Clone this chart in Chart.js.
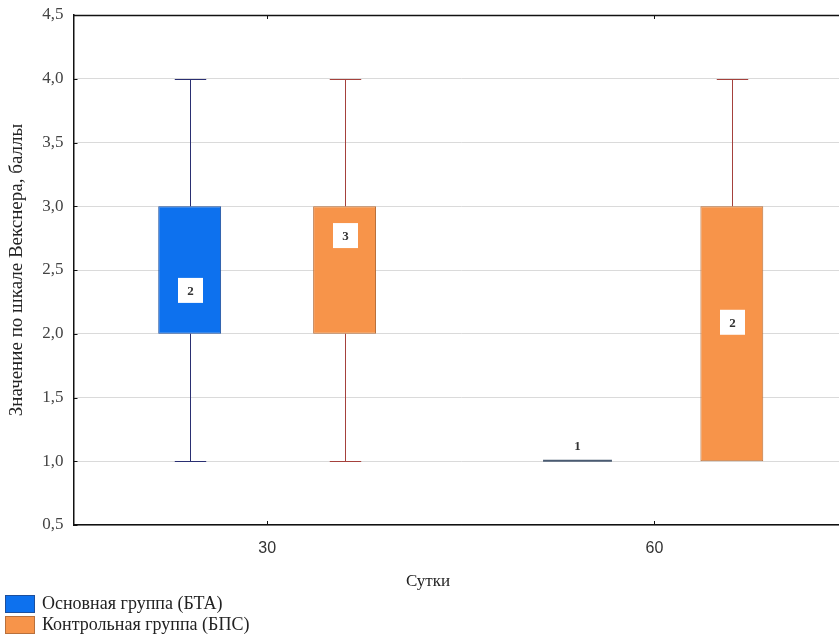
<!DOCTYPE html>
<html>
<head>
<meta charset="utf-8">
<script src="https://cdn.jsdelivr.net/npm/chart.js@4"></script>
<style>
  html, body { margin: 0; padding: 0; background: #fff; overflow: hidden; }
  #wrap { width: 848px; height: 635px; }
</style>
</head>
<body>
<div id="wrap"><canvas id="c" width="848" height="635"></canvas></div>
<script>
// Days after surgery
const days = ['30', '60'];

// Group names
const groupNames = ['Основная группа (БТА)', 'Контрольная группа (БПС)'];

// Box-plot statistics per group, one entry per day
const mainMin    = [1, 1];
const mainQ1     = [2, 1];
const mainQ3     = [3, 1];
const mainMax    = [4, 1];
const mainMedian = [2, 1];

const ctrlMin    = [1, 1];
const ctrlQ1     = [2, 1];
const ctrlQ3     = [3, 3];
const ctrlMax    = [4, 4];
const ctrlMedian = [3, 2];

// Where each median tag sits on the value axis
const mainTagAt = [2.34, 1.12];
const ctrlTagAt = [2.77, 2.09];

// Y tick labels use a decimal comma
const fmt = v => v.toFixed(1).replace('.', ',');

const groups = [
  { min: mainMin, q1: mainQ1, q3: mainQ3, max: mainMax, med: mainMedian, tag: mainTagAt,
    fill: '#0d71ee', edge: '#1d4f9c', whisker: '#2a2f72', flat: '#4a5b72' },
  { min: ctrlMin, q1: ctrlQ1, q3: ctrlQ3, max: ctrlMax, med: ctrlMedian, tag: ctrlTagAt,
    fill: '#f7944a', edge: '#b8703c', whisker: '#a5413c', flat: '#a5413c' }
];

const SERIF = '"Liberation Serif", "Times New Roman", serif';
const SANS = '"Liberation Sans", Arial, sans-serif';

// Whiskers, caps, flat boxes, median tags, frame and legend
const boxExtras = {
  id: 'boxExtras',
  afterDatasetsDraw(chart) {
    const ctx = chart.ctx;
    const y = chart.scales.y;
    const x = chart.scales.x;
    const area = chart.chartArea;
    ctx.save();
    groups.forEach((g, di) => {
      const meta = chart.getDatasetMeta(di);
      meta.data.forEach((bar, i) => {
        const cx = Math.round(bar.x) + 0.5;
        const w = bar.width;
        const cap = w / 2;
        ctx.strokeStyle = g.whisker;
        ctx.lineWidth = 1;
        const yMax = Math.round(y.getPixelForValue(g.max[i])) + 0.5;
        const yQ3 = y.getPixelForValue(g.q3[i]);
        const yQ1 = y.getPixelForValue(g.q1[i]);
        const yMin = Math.round(y.getPixelForValue(g.min[i])) + 0.5;
        if (g.max[i] > g.q3[i]) {
          ctx.beginPath();
          ctx.moveTo(cx, yMax); ctx.lineTo(cx, yQ3);
          ctx.moveTo(cx - cap / 2, yMax); ctx.lineTo(cx + cap / 2, yMax);
          ctx.stroke();
        }
        if (g.min[i] < g.q1[i]) {
          ctx.beginPath();
          ctx.moveTo(cx, yQ1); ctx.lineTo(cx, yMin);
          ctx.moveTo(cx - cap / 2, yMin); ctx.lineTo(cx + cap / 2, yMin);
          ctx.stroke();
        }
        if (g.q1[i] === g.q3[i]) {
          // collapsed box: draw it as a single line
          ctx.strokeStyle = g.flat;
          ctx.lineWidth = 2;
          ctx.beginPath();
          ctx.moveTo(cx - w / 2 - 3, yQ1 - 0.5); ctx.lineTo(cx + w / 2 + 3, yQ1 - 0.5);
          ctx.stroke();
        }
        // median tag
        const ty = y.getPixelForValue(g.tag[i]);
        ctx.fillStyle = '#ffffff';
        ctx.fillRect(cx - 12.5, ty - 12.5, 25, 25);
        ctx.fillStyle = '#333333';
        ctx.font = 'bold 13px ' + SERIF;
        ctx.textAlign = 'center';
        ctx.textBaseline = 'middle';
        ctx.fillText(String(g.med[i]), cx, ty + 1);
      });
    });

    // frame: top edge and inward tick marks
    ctx.strokeStyle = '#111';
    ctx.lineWidth = 1.5;
    ctx.beginPath();
    ctx.moveTo(area.left, area.top + 0.5);
    ctx.lineTo(area.right, area.top + 0.5);
    ctx.stroke();
    ctx.lineWidth = 1;
    ctx.beginPath();
    x.ticks.forEach((t, i) => {
      const px = Math.round(x.getPixelForTick(i)) + 0.5;
      ctx.moveTo(px, area.top); ctx.lineTo(px, area.top + 4);
      ctx.moveTo(px, area.bottom); ctx.lineTo(px, area.bottom - 4);
    });
    y.ticks.forEach((t, i) => {
      const py = Math.round(y.getPixelForTick(i)) + 0.5;
      ctx.moveTo(area.left, py); ctx.lineTo(area.left + 4, py);
    });
    ctx.stroke();

    // x axis title
    ctx.fillStyle = '#222';
    ctx.font = '17px ' + SERIF;
    ctx.textAlign = 'center';
    ctx.textBaseline = 'middle';
    ctx.fillText('Сутки', 428, 582);

    // legend
    ctx.textAlign = 'left';
    groups.forEach((g, i) => {
      const top = 595 + i * 21;
      ctx.fillStyle = g.fill;
      ctx.fillRect(5.5, top + 0.5, 29, 17);
      ctx.strokeStyle = g.edge;
      ctx.lineWidth = 1;
      ctx.strokeRect(5.5, top + 0.5, 29, 17);
      ctx.fillStyle = '#222';
      ctx.font = '18px ' + SERIF;
      ctx.fillText(groupNames[i], 42, top + 9.5);
    });
    ctx.restore();
  }
};

new Chart(document.getElementById('c'), {
  type: 'bar',
  data: {
    labels: days,
    datasets: groups.map((g, i) => ({
      label: groupNames[i],
      data: g.q1.map((v, k) => [v, g.q3[k]]),
      backgroundColor: g.fill,
      borderColor: g.edge,
      borderWidth: 1,
      borderSkipped: false,
      categoryPercentage: 0.8,
      barPercentage: 0.406
    }))
  },
  options: {
    responsive: false,
    animation: false,
    layout: { padding: { top: 15, left: 0, right: 0, bottom: 0 } },
    plugins: {
      legend: { display: false },
      tooltip: { enabled: false }
    },
    scales: {
      x: {
        grid: { display: false, drawTicks: false },
        border: { display: true, color: '#111', width: 1.5 },
        ticks: { padding: 14, color: '#333', font: { family: SANS, size: 16 } },
        afterFit: s => { s.height = 110; s.paddingLeft = 0; s.paddingRight = 0; }
      },
      y: {
        min: 0.5,
        max: 4.5,
        grid: { color: '#dadada', drawTicks: false, lineWidth: 1 },
        border: { display: true, color: '#111', width: 1.5 },
        ticks: {
          stepSize: 0.5,
          padding: 10,
          color: '#444',
          font: { family: SERIF, size: 17 },
          callback: v => fmt(v)
        },
        title: {
          display: true,
          text: 'Значение по шкале Векснера, баллы',
          color: '#222',
          font: { family: SERIF, size: 19 },
          padding: { top: 6, bottom: 0 }
        },
        afterFit: s => { s.width = 73.5; s.paddingTop = 0; s.paddingBottom = 0; }
      }
    }
  },
  plugins: [boxExtras]
});
</script>
</body>
</html>
